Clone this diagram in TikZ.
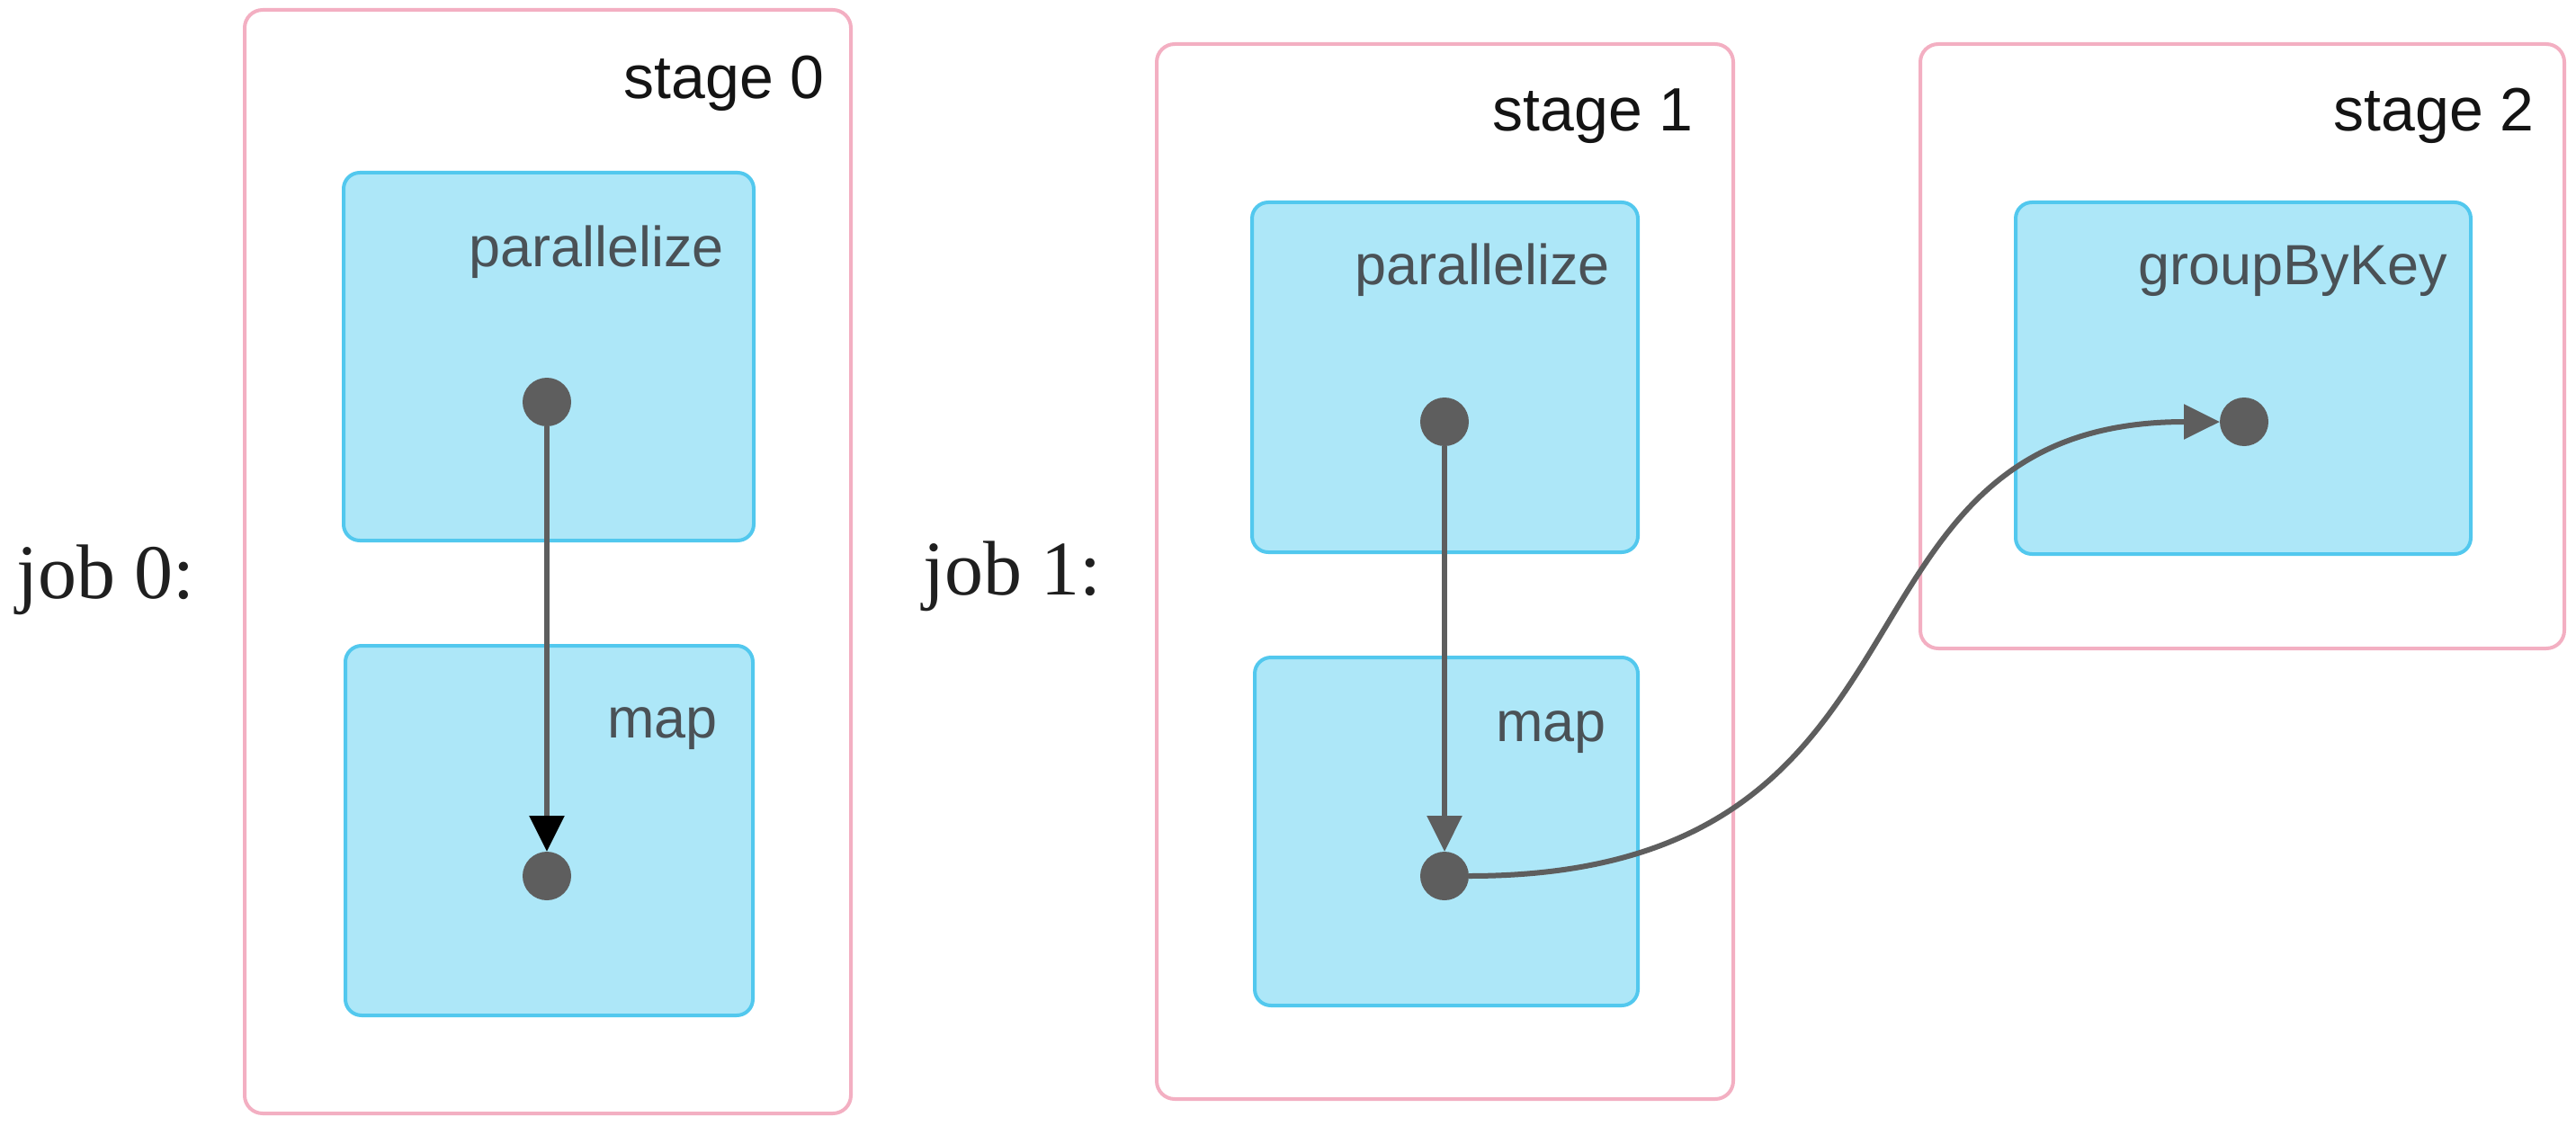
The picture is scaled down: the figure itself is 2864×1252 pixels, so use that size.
\documentclass[tikz,border=0pt]{standalone}
\usepackage{fontspec}
\setmainfont{Liberation Sans}
\newfontfamily\jobfont{Liberation Serif}
\usetikzlibrary{arrows.meta}
\definecolor{stageborder}{HTML}{F3AFC2}
\definecolor{boxfill}{HTML}{ADE7F8}
\definecolor{boxborder}{HTML}{52C8EE}
\definecolor{dotgrey}{HTML}{5E5E5E}
\definecolor{labgrey}{HTML}{4A5156}
\begin{document}
\begin{tikzpicture}[x=1pt,y=-1pt,
  stagebox/.style={draw=stageborder, line width=4pt, rounded corners=20pt, fill=white, inner sep=0pt, outer sep=0pt},
  opbox/.style={draw=boxborder, fill=boxfill, line width=4pt, rounded corners=18pt, inner sep=0pt, outer sep=0pt},
  stagelab/.style={anchor=base east, font=\fontsize{68}{80}\selectfont, text=black!92, inner sep=0pt},
  oplab/.style={anchor=base east, font=\fontsize{63}{74}\selectfont, text=labgrey, inner sep=0pt},
  joblab/.style={anchor=base west, font=\jobfont\fontsize{86}{100}\selectfont, text=black!88, inner sep=0pt},
  opdot/.style={circle, fill=dotgrey, minimum size=54pt, inner sep=0pt, outer sep=0pt},
  conn/.style={draw=dotgrey, line width=6pt, -{Triangle[length=40pt,width=38pt]}}
]
\useasboundingbox (0,0) rectangle (2864,1252);
% stages
\node[stagebox, minimum width=674pt, minimum height=1227pt] (s0) at (609,624.5) {};
\node[stagebox, minimum width=641pt, minimum height=1173pt] (s1) at (1606.5,635.5) {};
\node[stagebox, minimum width=716pt, minimum height=672pt] (s2) at (2493,385) {};
\node[stagelab] (s0l) at (917,110) {stage 0};
\node[stagelab] (s1l) at (1883,146) {stage 1};
\node[stagelab] (s2l) at (2818,146) {stage 2};
% job labels
\node[joblab] (j0) at (18,665) {job 0:};
\node[joblab] (j1) at (1026,661) {job 1:};
% operation boxes
\node[opbox, minimum width=456pt, minimum height=409pt] (p0) at (610,396.5) {};
\node[opbox, minimum width=453pt, minimum height=411pt] (m0) at (610.5,923.5) {};
\node[opbox, minimum width=429pt, minimum height=389pt] (p1) at (1606.5,419.5) {};
\node[opbox, minimum width=426pt, minimum height=387pt] (m1) at (1608,924.5) {};
\node[opbox, minimum width=506pt, minimum height=391pt] (g2) at (2494,420.5) {};
\node[oplab] (p0l) at (805,296) {parallelize};
\node[oplab] (m0l) at (798,820) {map};
\node[oplab] (p1l) at (1790,316) {parallelize};
\node[oplab] (m1l) at (1786,824) {map};
\node[oplab] (g2l) at (2721,316) {groupByKey};
% dots
\node[opdot] (d0a) at (608,447) {};
\node[opdot] (d0b) at (608,974) {};
\node[opdot] (d1a) at (1606,469) {};
\node[opdot] (d1b) at (1606,974) {};
\node[opdot] (d2) at (2495,469) {};
% connectors
\draw[draw=dotgrey, line width=6pt, -{Triangle[length=40pt,width=38pt,black]}] (d0a) -- (d0b);
\draw[conn] (d1a) -- (d1b);
\draw[conn] (d1b) to[out=0,in=180,out looseness=1.45,in looseness=1.2] (d2);
\end{tikzpicture}
\end{document}
